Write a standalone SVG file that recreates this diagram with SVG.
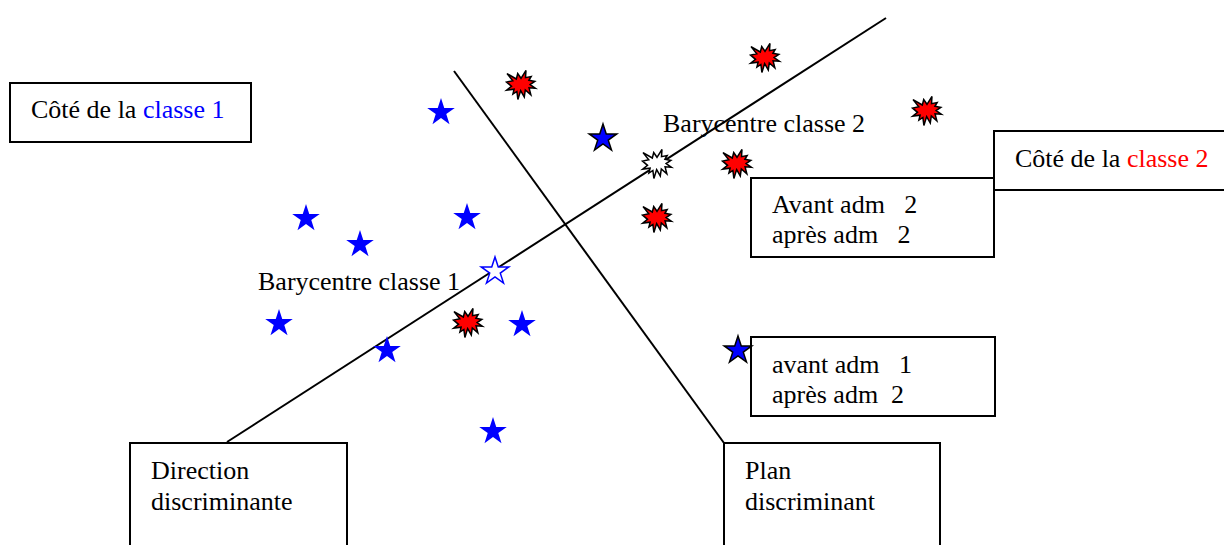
<svg xmlns="http://www.w3.org/2000/svg" width="1224" height="545" viewBox="0 0 1224 545">
  <style>
    text { font-family: "Liberation Serif", "Times New Roman", serif; font-size: 26px; fill: #000; white-space: pre; }
    .box { fill: #fff; stroke: #000; stroke-width: 2; }
    .axis { stroke: #000; stroke-width: 2; fill: none; }
    .c1 { fill: #0000ff; }
    .c2 { fill: #ff0000; }
    .star1 { fill: #0000ff; stroke: none; }
    .star1b { fill: #0000ff; stroke: #000; stroke-width: 1.5; stroke-linejoin: miter; }
    .starHollow { fill: #fff; stroke: #0000ff; stroke-width: 1.5; }
    .burst { fill: #ff0000; stroke: #000; stroke-width: 1.5; }
    .burstHollow { fill: #fff; stroke: #000; stroke-width: 1.5; }
  </style>
  <defs>
    <!-- five-point star centred on its bounding box -->
    <path id="star" d="M0,-14.5 L3.26,-4.48 L13.79,-4.48 L5.27,1.71 L8.52,11.73 L0,5.54 L-8.52,11.73 L-5.27,1.71 L-13.79,-4.48 L-3.26,-4.48 Z" transform="translate(0,1.4)"/>
    <!-- irregular explosion seal -->
    <path id="burst" d="M0,-6.7 L4.99,-14.47 L4.5,-7.34 L10.16,-8.5 L7.91,-4.67 L13.8,-3.57 L9.12,-0.44 L14.47,3.34 L8.09,2.87 L9.84,9.78 L4.31,4.9 L3.28,11.98 L-0.36,5.54 L-3.1,14.47 L-4.13,6.47 L-8.09,9.13 L-6.88,4.2 L-14.29,5.07 L-9.48,1.31 L-14.47,-2.93 L-8.27,-4.27 L-13.98,-11.4 L-4.67,-6 L-3.28,-11.4 Z"/>
  </defs>

  <!-- discriminant direction and plane -->
  <g id="connectors">
    <line class="axis" x1="227" y1="442" x2="886" y2="18"/>
    <line class="axis" x1="454" y1="71" x2="724" y2="443"/>
  </g>

  <!-- class 1 points -->
  <g id="class1-points">
    <use href="#star" class="star1" x="441" y="111"/>
    <use href="#star" class="star1" x="306" y="217"/>
    <use href="#star" class="star1" x="360" y="243"/>
    <use href="#star" class="star1" x="467" y="216"/>
    <use href="#star" class="star1" x="279" y="322"/>
    <use href="#star" class="star1" x="522" y="323"/>
    <use href="#star" class="star1" x="387" y="349"/>
    <use href="#star" class="star1" x="493" y="430"/>
    <use href="#star" class="starHollow" x="495" y="270"/>
  </g>

  <!-- class 2 points -->
  <g id="class2-points">
    <use href="#burst" class="burst" x="521" y="85"/>
    <use href="#burst" class="burst" x="765" y="58"/>
    <use href="#burst" class="burst" x="927" y="111"/>
    <use href="#burst" class="burst" x="737" y="164"/>
    <use href="#burst" class="burst" x="657" y="218"/>
    <use href="#burst" class="burst" x="468" y="323"/>
    <use href="#burst" class="burstHollow" x="657" y="164"/>
  </g>

  <g id="label-bary1"><text x="258" y="290">Barycentre classe 1</text></g>
  <g id="label-bary2"><text x="663" y="132">Barycentre classe 2</text></g>

  <g id="side-class1">
    <rect class="box" x="10" y="83" width="241" height="59"/>
    <text x="31" y="118">Côté de la <tspan class="c1">classe 1</tspan></text>
  </g>

  <g id="misclassified-2">
    <rect class="box" x="751" y="178" width="243" height="79"/>
    <text x="772" y="213">Avant adm   2</text>
    <text x="772" y="243">après adm   2</text>
  </g>

  <g id="side-class2">
    <rect class="box" x="994" y="131" width="240" height="59"/>
    <text x="1015" y="167">Côté de la <tspan class="c2">classe 2</tspan></text>
  </g>

  <g id="misclassified-1">
    <rect class="box" x="751" y="337" width="244" height="79"/>
    <text x="772" y="373">avant adm   1</text>
    <text x="772" y="403">après adm  2</text>
  </g>

  <g id="point-reassigned">
    <use href="#star" class="star1b" x="603" y="137"/>
    <use href="#star" class="star1b" x="738" y="349"/>
  </g>

  <g id="direction-box">
    <rect class="box" x="130" y="443" width="217" height="120"/>
    <text x="151" y="479">Direction</text>
    <text x="151" y="510">discriminante</text>
  </g>

  <g id="plan-box">
    <rect class="box" x="724" y="443" width="216" height="120"/>
    <text x="745" y="479">Plan</text>
    <text x="745" y="510">discriminant</text>
  </g>
</svg>
